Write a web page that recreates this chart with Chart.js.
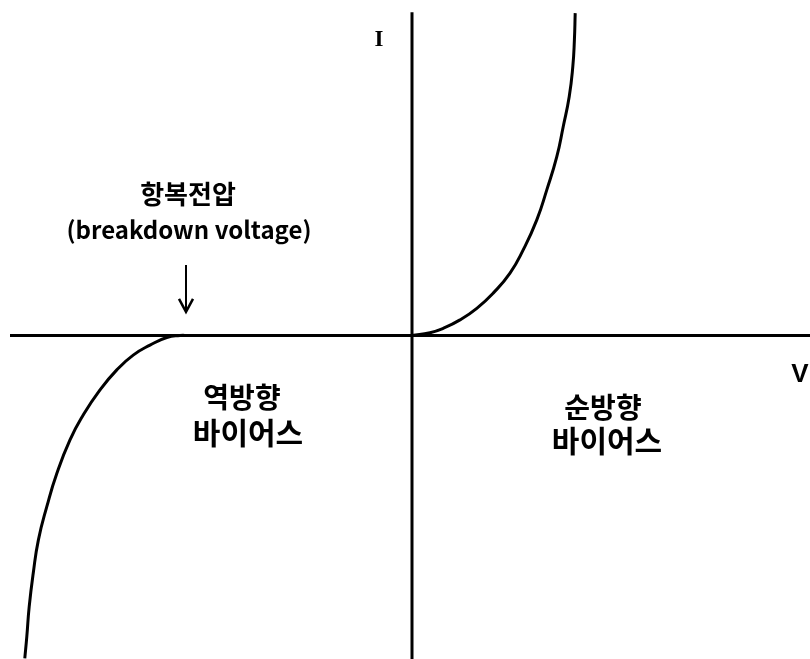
<!DOCTYPE html>
<html>
<head>
<meta charset="utf-8">
<script src="https://cdn.jsdelivr.net/npm/chart.js@4.4.1/dist/chart.umd.min.js"></script>
<style>
  body { margin: 0; background: #fff; }
  #wrap { width: 810px; height: 659px; }
</style>
</head>
<body>
<div id="wrap"><canvas id="c" width="810" height="659"></canvas></div>
<script>
// forward bias branch (V, I)
const forwardV = [0, 0.45, 0.78, 1.2, 1.62, 2.03, 2.45, 2.78, 3.12, 3.37, 3.62, 3.78, 3.93, 4.02, 4.06, 4.08];
const forwardI = [0, 0.07, 0.18, 0.39, 0.68, 1.06, 1.56, 2.14, 2.89, 3.64, 4.47, 5.22, 5.97, 6.72, 7.39, 8.06];

// reverse bias branch, breakdown near -5.7
const reverseV = [-9.68, -9.63, -9.57, -9.47, -9.34, -9.13, -8.88, -8.55, -8.22, -7.8, -7.38, -6.97, -6.55, -6.13, -5.8, -5.6];
const reverseI = [-8.07, -7.53, -6.78, -5.95, -5.11, -4.28, -3.45, -2.61, -1.99, -1.36, -0.86, -0.49, -0.24, -0.05, 0, 0];

// axis extents
const vAxis = [-10.05, 9.95];
const iAxis = [-8.09, 8.08];

// breakdown arrow: x, from, to
const arrowV = -5.65;
const arrowI = [1.76, 0.59];

const labelText = {
  current: 'I',
  voltage: 'V',
  breakdownKo: '항복전압',
  breakdownEn: '(breakdown voltage)',
  reverse: ['역방향', '바이어스'],
  forward: ['순방향', '바이어스']
};

const zip = (xs, ys) => xs.map((x, i) => ({ x: x, y: ys[i] }));

const lineStyle = {
  borderColor: '#000',
  borderWidth: 3,
  pointRadius: 0,
  fill: false
};

const annotate = {
  id: 'annotate',
  afterDatasetsDraw(chart) {
    const ctx = chart.ctx;
    const sx = chart.scales.x, sy = chart.scales.y;
    ctx.save();
    ctx.fillStyle = '#000';
    ctx.textAlign = 'center';
    ctx.textBaseline = 'middle';

    // arrow
    const ax = sx.getPixelForValue(arrowV);
    const y0 = sy.getPixelForValue(arrowI[0]);
    const y1 = sy.getPixelForValue(arrowI[1]);
    ctx.strokeStyle = '#000';
    ctx.lineWidth = 2;
    ctx.beginPath();
    ctx.moveTo(ax, y0);
    ctx.lineTo(ax, y1 - 2);
    ctx.stroke();
    ctx.lineWidth = 2.5;
    ctx.beginPath();
    ctx.moveTo(ax - 7, y1 - 13);
    ctx.lineTo(ax, y1);
    ctx.lineTo(ax + 7, y1 - 13);
    ctx.stroke();

    ctx.font = 'bold 23px "Liberation Serif", serif';
    ctx.fillText(labelText.current, 379, 40);

    ctx.font = 'bold 26px "Liberation Sans", Arial, sans-serif';
    ctx.fillText(labelText.voltage, 800, 375);

    ctx.font = 'bold 26px "Noto Sans CJK KR", sans-serif';
    ctx.fillText(labelText.breakdownKo, 188, 194);
    ctx.font = 'bold 24px "Noto Sans CJK KR", "Noto Sans", sans-serif';
    ctx.fillText(labelText.breakdownEn, 189, 230);

    ctx.font = 'bold 28px "Noto Sans CJK KR", sans-serif';
    ctx.fillText(labelText.reverse[0], 242, 397);
    ctx.fillText(labelText.forward[0], 603, 407);
    ctx.font = 'bold 30px "Noto Sans CJK KR", sans-serif';
    ctx.fillText(labelText.reverse[1], 248, 433);
    ctx.fillText(labelText.forward[1], 607, 441);
    ctx.restore();
  }
};

new Chart(document.getElementById('c'), {
  type: 'line',
  data: {
    datasets: [
      Object.assign({ data: zip(vAxis, [0, 0]) }, lineStyle),
      Object.assign({ data: zip([0, 0], iAxis) }, lineStyle),
      Object.assign({ data: zip(forwardV, forwardI), tension: 0.5 }, lineStyle),
      Object.assign({ data: zip(reverseV, reverseI), tension: 0.5 }, lineStyle)
    ]
  },
  options: {
    responsive: false,
    animation: false,
    layout: { padding: 0 },
    plugins: { legend: { display: false }, tooltip: { enabled: false } },
    scales: {
      x: { type: 'linear', display: false, min: -10.3, max: 9.95 },
      y: { type: 'linear', display: false, min: -8.0875, max: 8.3875 }
    }
  },
  plugins: [annotate]
});
</script>
</body>
</html>
